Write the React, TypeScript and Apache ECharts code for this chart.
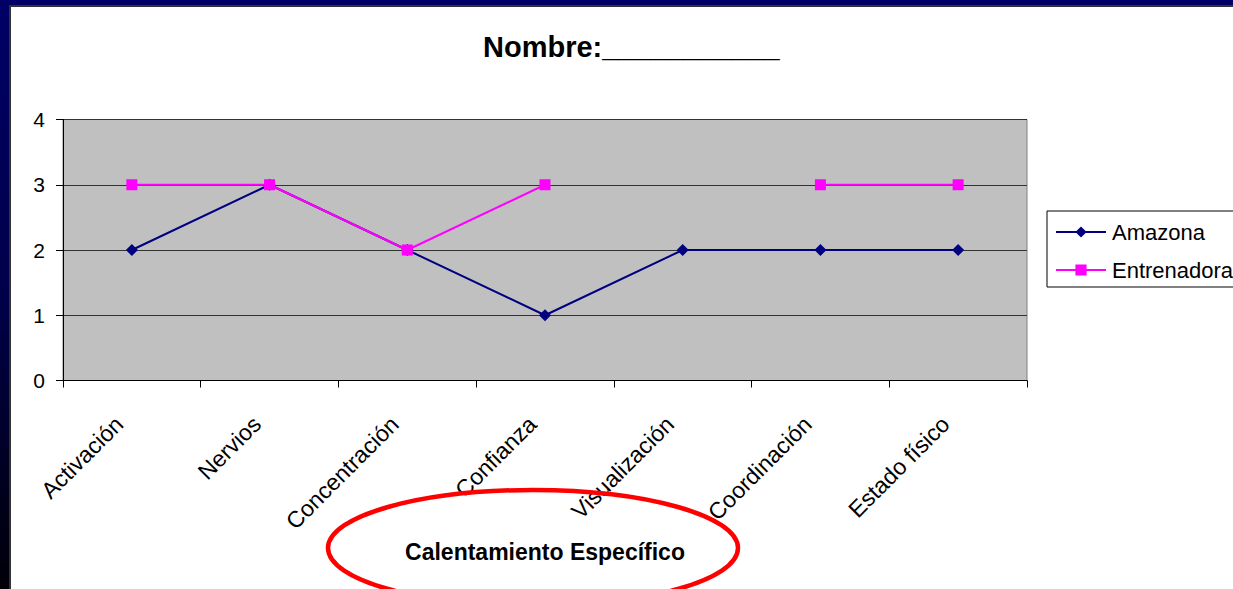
import React, { useEffect, useRef } from "react";
import * as echarts from "echarts";

const categories = [
  "Activación",
  "Nervios",
  "Concentración",
  "Confianza",
  "Visualización",
  "Coordinación",
  "Estado físico",
];
const amazona = [2, 3, 2, 1, 2, 2, 2];
const entrenadora: (number | null)[] = [3, 3, 2, 3, null, 3, 3];
const yTicks = [0, 1, 2, 3, 4];
const titleText = "Nombre:___________";
const axisTitle = "Calentamiento Específico";

const FONT = 'Arial, "Liberation Sans", sans-serif';

export default function App() {
  const ref = useRef<HTMLDivElement>(null);

  useEffect(() => {
    if (!ref.current) return;
    const chart = echarts.init(ref.current, null, { renderer: "svg" });
    chart.setOption({
      animation: false,
      textStyle: { fontFamily: FONT },
      title: {
        text: titleText,
        left: 483,
        top: 32,
        padding: 0,
        textStyle: { fontSize: 29, fontWeight: "bold", color: "#000", fontFamily: FONT },
      },
      legend: {
        orient: "vertical",
        left: 1047,
        top: 211,
        padding: [10, 12, 6, 8],
        itemGap: 16,
        itemWidth: 50,
        itemHeight: 14,
        borderColor: "#000",
        borderWidth: 1,
        backgroundColor: "#fff",
        textStyle: { fontSize: 22, color: "#000", lineHeight: 22, padding: [0, 0, 0, 1] },
        data: ["Amazona", "Entrenadora"],
      },
      grid: {
        left: 63,
        right: 206,
        top: 119.5,
        height: 261,
        show: true,
        backgroundColor: "#C0C0C0",
        borderColor: "#808080",
        borderWidth: 1,
        containLabel: false,
      },
      xAxis: {
        type: "category",
        data: categories,
        boundaryGap: true,
        name: axisTitle,
        nameLocation: "middle",
        nameGap: 160,
        nameTextStyle: { fontSize: 23, fontWeight: "bold", color: "#000", fontFamily: FONT },
        axisLine: { show: true, lineStyle: { color: "#000", width: 1 } },
        axisTick: { show: true, length: 7, alignWithLabel: false, lineStyle: { color: "#000" } },
        axisLabel: {
          rotate: 45,
          margin: 27,
          padding: [0, 18, 0, 0],
          fontSize: 23,
          color: "#000",
          interval: 0,
          fontFamily: FONT,
        },
        splitLine: { show: false },
      },
      yAxis: {
        type: "value",
        min: yTicks[0],
        max: yTicks[yTicks.length - 1],
        interval: 1,
        axisLine: { show: true, lineStyle: { color: "#000", width: 1 } },
        axisTick: { show: true, length: 7, lineStyle: { color: "#000" } },
        axisLabel: { fontSize: 21, color: "#000", margin: 18, fontFamily: FONT },
        splitLine: { show: true, lineStyle: { color: "#333", width: 1 } },
      },
      series: [
        {
          name: "Amazona",
          type: "line",
          data: amazona,
          symbol: "diamond",
          symbolSize: 12,
          itemStyle: { color: "#000080" },
          lineStyle: { color: "#000080", width: 2 },
          z: 2,
        },
        {
          name: "Entrenadora",
          type: "line",
          data: entrenadora,
          connectNulls: false,
          symbol: "rect",
          symbolSize: 11,
          itemStyle: { color: "#FF00FF" },
          lineStyle: { color: "#FF00FF", width: 2 },
          z: 3,
        },
      ],
      graphic: [
        {
          type: "ellipse",
          shape: { cx: 533, cy: 548, rx: 205, ry: 58 },
          style: { fill: "none", stroke: "#FF0000", lineWidth: 4.5 },
          z: 10,
        },
      ],
    });
    return () => chart.dispose();
  }, []);

  return (
    <div
      style={{
        position: "fixed",
        left: 0,
        top: 0,
        width: 1233,
        height: 589,
        overflow: "hidden",
        background: "linear-gradient(to bottom, #000066 0%, #00004a 50%, #000008 100%)",
      }}
    >
      <div
        style={{
          position: "absolute",
          left: 9,
          top: 5,
          width: 1240,
          height: 600,
          background: "#fff",
          borderTop: "2px solid #333",
          borderLeft: "2px solid #333",
          boxSizing: "border-box",
        }}
      />
      <div
        ref={ref}
        style={{ position: "absolute", left: 0, top: 0, width: 1233, height: 589 }}
      />
    </div>
  );
}
